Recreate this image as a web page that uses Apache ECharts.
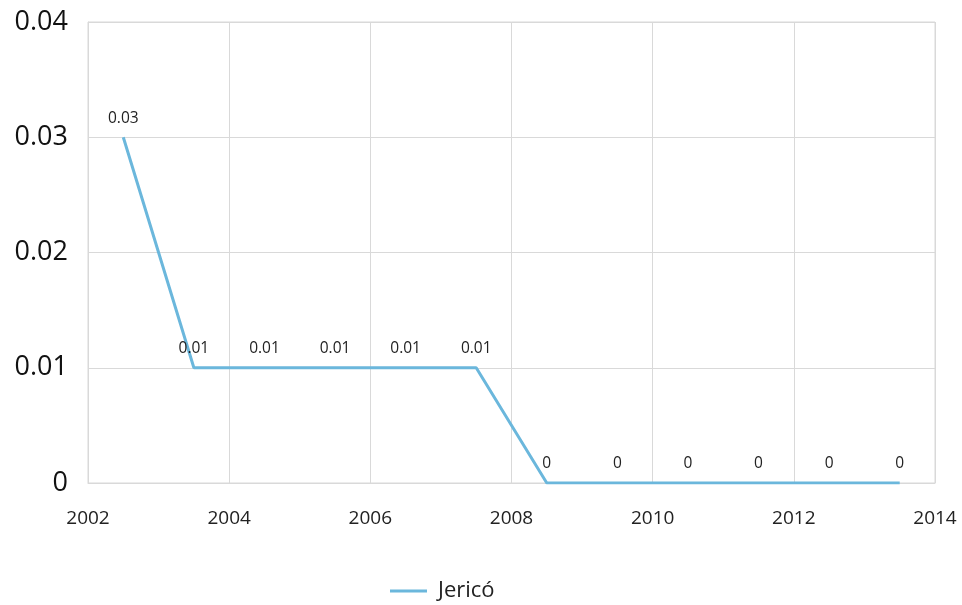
<!DOCTYPE html>
<html><head><meta charset="utf-8">
<script src="https://cdn.jsdelivr.net/npm/echarts@6/dist/echarts.min.js"></script>
<style>html,body{margin:0;padding:0;background:#fff}#c{width:962px;height:605px}</style>
</head><body><div id="c"></div>
<script>
const seriesName = 'Jericó';
const years = [2002.5, 2003.5, 2004.5, 2005.5, 2006.5, 2007.5, 2008.5, 2009.5, 2010.5, 2011.5, 2012.5, 2013.5];
const values = [0.03, 0.01, 0.01, 0.01, 0.01, 0.01, 0, 0, 0, 0, 0, 0];
const labels = ['0.03', '0.01', '0.01', '0.01', '0.01', '0.01', '0', '0', '0', '0', '0', '0'];

const font = '"Open Sans", "Noto Sans", sans-serif';
const chart = echarts.init(document.getElementById('c'));
chart.setOption({
  animation: false,
  textStyle: { fontFamily: font },
  grid: { left: 88, right: 27, top: 22, bottom: 122, show: true, borderColor: '#d9d9d9', borderWidth: 1 },
  xAxis: {
    type: 'value', min: 2002, max: 2014, interval: 2,
    axisLine: { show: true, lineStyle: { color: '#d9d9d9', width: 1 } },
    axisTick: { show: false },
    splitLine: { show: true, lineStyle: { color: '#d9d9d9', width: 1 } },
    axisLabel: { color: '#222', fontSize: 19, fontFamily: font, margin: 26, formatter: v => String(v) }
  },
  yAxis: {
    type: 'value', min: 0, max: 0.04, interval: 0.01,
    axisLine: { show: true, lineStyle: { color: '#d9d9d9', width: 1 } },
    axisTick: { show: false },
    splitLine: { show: true, lineStyle: { color: '#d9d9d9', width: 1 } },
    axisLabel: { color: '#111', fontSize: 27, fontFamily: font, margin: 20, formatter: v => v === 0 ? '0' : v.toFixed(2) }
  },
  legend: {
    bottom: -2, left: 385, itemWidth: 37, itemHeight: 3, icon: 'rect', itemGap: 10,
    textStyle: { fontSize: 22, color: '#222', fontFamily: font, padding: [0, 0, 0, 6] },
    data: [seriesName]
  },
  series: [{
    name: seriesName, type: 'line',
    data: years.map((y, i) => [y, values[i]]),
    showSymbol: true, symbol: 'circle', symbolSize: 0.01,
    lineStyle: { color: '#6bb7dc', width: 3 },
    itemStyle: { color: '#6bb7dc' },
    label: { show: true, position: 'top', distance: 11, fontSize: 15.5, color: '#222', fontFamily: font,
      formatter: p => labels[p.dataIndex] }
  }]
});
</script></body></html>
